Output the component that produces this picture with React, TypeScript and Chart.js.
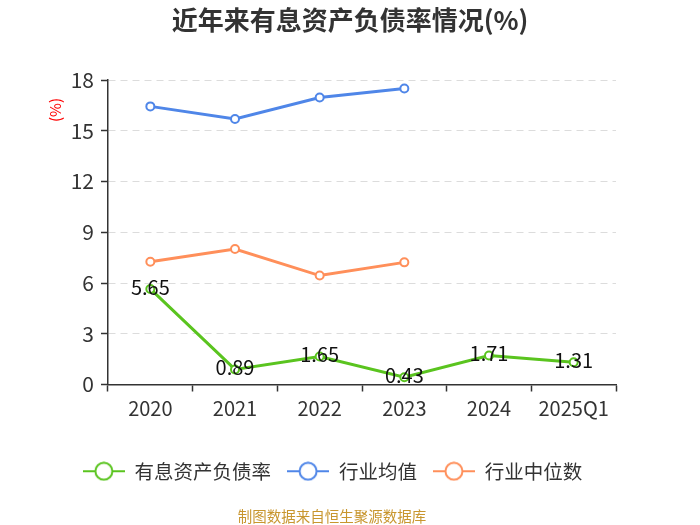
import React, { useEffect, useRef } from "react";
import { Chart, registerables } from "chart.js";

Chart.register(...registerables);

const categories = ["2020", "2021", "2022", "2023", "2024", "2025Q1"];
const ratioValues = [5.65, 0.89, 1.65, 0.43, 1.71, 1.31];
const industryAvg = [16.44, 15.69, 16.97, 17.5, null, null];
const industryMedian = [7.26, 8.01, 6.44, 7.22, null, null];
const yTicks = [0, 3, 6, 9, 12, 15, 18];

const seriesNames = ["有息资产负债率", "行业均值", "行业中位数"];
const colors = ["#5ac41f", "#4f86e8", "#ff8f5a"];

const titleText = "近年来有息资产负债率情况(%)";
const unitText = "(%)";
const sourceText = "制图数据来自恒生聚源数据库";

const FONT = "'Noto Sans CJK SC', 'Noto Sans', sans-serif";

function makeMarker(color: string): HTMLCanvasElement {
  const c = document.createElement("canvas");
  c.width = 42;
  c.height = 20;
  const ctx = c.getContext("2d")!;
  ctx.strokeStyle = color;
  ctx.lineWidth = 2;
  ctx.beginPath();
  ctx.moveTo(0, 10);
  ctx.lineTo(42, 10);
  ctx.stroke();
  ctx.beginPath();
  ctx.arc(21, 10, 8.5, 0, Math.PI * 2);
  ctx.fillStyle = "#ffffff";
  ctx.fill();
  ctx.stroke();
  return c;
}

export default function App() {
  const ref = useRef<HTMLCanvasElement | null>(null);

  useEffect(() => {
    if (!ref.current) return;
    const markers = colors.map(makeMarker);

    const textPlugin = {
      id: "extraText",
      afterDraw(chart: any) {
        const ctx = chart.ctx;
        ctx.save();
        ctx.fillStyle = "#333333";
        ctx.font = `bold 26px ${FONT}`;
        ctx.textAlign = "center";
        ctx.textBaseline = "middle";
        ctx.fillText(titleText, 350, 20);

        ctx.fillStyle = "#ff0000";
        ctx.font = `15px ${FONT}`;
        ctx.translate(55, 110);
        ctx.rotate(-Math.PI / 2);
        ctx.fillText(unitText, 0, 0);
        ctx.restore();

        ctx.save();
        ctx.fillStyle = "#c8962e";
        ctx.font = `14.5px ${FONT}`;
        ctx.textAlign = "center";
        ctx.textBaseline = "middle";
        ctx.fillText(sourceText, 332, 516);
        ctx.restore();
      },
      afterDatasetsDraw(chart: any) {
        const ctx = chart.ctx;
        const meta = chart.getDatasetMeta(0);
        ctx.save();
        ctx.fillStyle = "#111111";
        ctx.font = `20px ${FONT}`;
        ctx.textAlign = "center";
        ctx.textBaseline = "middle";
        meta.data.forEach((pt: any, i: number) => {
          const v = ratioValues[i];
          if (v == null) return;
          ctx.fillText(v.toFixed(2), pt.x, pt.y - 2);
        });
        ctx.restore();
      },
    };

    const chart = new Chart(ref.current, {
      type: "line",
      data: {
        labels: categories,
        datasets: [ratioValues, industryAvg, industryMedian].map((d, i) => ({
          label: seriesNames[i],
          data: d as any,
          borderColor: colors[i],
          backgroundColor: "#ffffff",
          borderWidth: 3,
          pointRadius: 4,
          pointBorderWidth: 2,
          pointBackgroundColor: "#ffffff",
          pointBorderColor: colors[i],
          tension: 0,
          spanGaps: false,
          yAxisID: "y",
        })),
      },
      options: {
        animation: false,
        responsive: false,
        layout: { padding: { left: 0, right: 35, top: 80, bottom: 34 } },
        plugins: {
          title: { display: false },
          tooltip: { enabled: false },
          legend: {
            position: "bottom",
            labels: {
              usePointStyle: true,
              pointStyleWidth: 42,
              padding: 16,
              color: "#333333",
              font: { family: FONT, size: 19.5 },
              generateLabels: (c: any) => {
                const items = Chart.defaults.plugins.legend.labels.generateLabels(c);
                return items.map((it: any, i: number) => ({ ...it, pointStyle: markers[i] }));
              },
            },
          },
        },
        scales: {
          x: {
            offset: true,
            grid: {
              display: true,
              drawOnChartArea: false,
              drawTicks: true,
              offset: true,
              tickLength: 7,
              tickColor: "#333333",
              tickWidth: 1.5,
            },
            border: { display: true, color: "#333333", width: 1.5 },
            ticks: {
              color: "#333333",
              padding: 5,
              font: { family: FONT, size: 20 },
              maxRotation: 0,
              autoSkip: false,
            },
            afterFit: (s: any) => {
              s.height = 61;
            },
          },
          y: {
            min: 0,
            max: 18,
            afterBuildTicks: (s: any) => {
              s.ticks = yTicks.map((v) => ({ value: v }));
            },
            grid: {
              color: "#dcdcdc",
              lineWidth: 1,
              drawTicks: true,
              tickLength: 7,
              tickColor: "#333333",
              tickWidth: 1.5,
              tickBorderDash: [],
            },
            border: { display: true, color: "#333333", width: 1.5, dash: [7, 5] },
            ticks: {
              color: "#333333",
              padding: 7,
              font: { family: FONT, size: 21 },
            },
            afterFit: (s: any) => {
              s.width = 108;
            },
          },
          yr: {
            position: "right",
            display: true,
            min: 0,
            max: 18,
            grid: { display: false, drawTicks: false },
            border: { display: false },
            ticks: { display: false },
            afterFit: (s: any) => {
              s.width = 49;
            },
          },
        },
      },
      plugins: [textPlugin],
    } as any);

    return () => chart.destroy();
  }, []);

  return (
    <div style={{ position: "absolute", left: 0, top: 0, width: 700, height: 525, background: "#ffffff" }}>
      <canvas ref={ref} width={700} height={525} style={{ width: 700, height: 525, display: "block" }} />
    </div>
  );
}
